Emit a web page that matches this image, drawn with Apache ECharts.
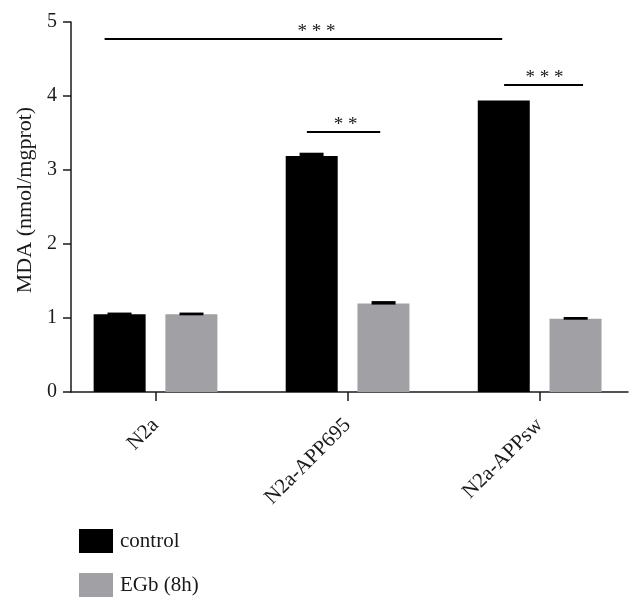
<!DOCTYPE html>
<html>
<head>
<meta charset="utf-8">
<script src="https://cdn.jsdelivr.net/npm/echarts@6/dist/echarts.min.js"></script>
<style>
  html, body { margin: 0; padding: 0; background: #fff; }
  #chart { width: 642px; height: 611px; }
</style>
</head>
<body>
<div id="chart"></div>
<script>
// 数据
const categories = ['N2a', 'N2a-APP695', 'N2a-APPsw'];
const controlValues = [1.05, 3.19, 3.94];
const egbValues = [1.05, 1.195, 0.99];
const controlErr = [0.01, 0.03, 0];
const egbErr = [0.01, 0.02, 0.01];
const yTicks = [0, 1, 2, 3, 4, 5];
// 显著性标注: 从 x0 到 x1 (类目坐标), 高度 y
const sigMarks = [
  { x0: -0.265, x1: 1.805, y: 4.78, text: '* * *', shift: 13 },
  { x0: 0.788, x1: 1.17, y: 3.52, text: '* *', shift: 2 },
  { x0: 1.815, x1: 2.226, y: 4.15, text: '* * *', shift: 1 }
];

const FONT = 'Liberation Serif';
const TEXT = '#1a1a1a';
const BAR_OFFSET = 36; // 柱子中心到类目中心的距离(px)

const chart = echarts.init(document.getElementById('chart'));

function errorSeries(name, values, errs, sign, extra) {
  return Object.assign({
    type: 'custom',
    name: name,
    z: 5,
    silent: true,
    data: values.map((v, i) => [i, v, errs[i]]),
    renderItem: function (params, api) {
      const i = api.value(0);
      const v = api.value(1);
      const e = api.value(2);
      if (!e) {
        return null;
      }
      const top = api.coord([i, v + e]);
      const base = api.coord([i, v]);
      const cx = top[0] + sign * BAR_OFFSET;
      const h = Math.max(base[1] - top[1], 0) + 2;
      return {
        type: 'rect',
        shape: { x: cx - 12, y: top[1] - 1, width: 24, height: h },
        style: { fill: '#000' }
      };
    }
  }, extra || {});
}

const option = {
  animation: false,
  textStyle: { fontFamily: FONT, color: TEXT },
  grid: { left: 71, right: 14, top: 22, bottom: 219, containLabel: false },
  legend: {
    orient: 'vertical',
    left: 79,
    top: 529,
    padding: 0,
    itemWidth: 34,
    itemHeight: 24,
    itemGap: 20,
    icon: 'rect',
    data: ['control', 'EGb (8h)'],
    textStyle: { fontFamily: FONT, fontSize: 21, color: TEXT, padding: [0, 0, 0, 2] }
  },
  xAxis: {
    type: 'value',
    min: -0.44,
    max: 2.46,
    splitLine: { show: false },
    axisLine: { show: true, onZero: false, lineStyle: { color: TEXT, width: 1.5 } },
    axisTick: { show: true, customValues: [0, 1, 2], length: 9, inside: false, lineStyle: { color: TEXT, width: 1.5 } },
    axisLabel: {
      customValues: [0, 1, 2],
      rotate: 45,
      margin: 30,
      fontFamily: FONT,
      fontSize: 21,
      color: TEXT,
      formatter: function (v) { return categories[Math.round(v)]; }
    }
  },
  yAxis: {
    type: 'value',
    min: 0,
    max: 5,
    interval: 1,
    name: 'MDA (nmol/mgprot)',
    nameLocation: 'middle',
    nameGap: 35,
    nameTextStyle: { fontFamily: FONT, fontSize: 22, color: TEXT, padding: [0, 0, 0, 14] },
    splitLine: { show: false },
    axisLine: { show: true, onZero: false, lineStyle: { color: TEXT, width: 1.5 } },
    axisTick: { show: true, length: 8, lineStyle: { color: TEXT, width: 1.5 } },
    axisLabel: {
      margin: 14,
      fontFamily: FONT,
      fontSize: 20,
      color: TEXT,
      customValues: yTicks
    }
  },
  series: [
    {
      name: 'control',
      type: 'bar',
      barWidth: 52,
      barGap: '38%',
      itemStyle: { color: '#000' },
      data: controlValues.map((v, i) => [i, v])
    },
    {
      name: 'EGb (8h)',
      type: 'bar',
      barWidth: 52,
      barGap: '38%',
      itemStyle: { color: '#a1a1a5' },
      data: egbValues.map((v, i) => [i, v])
    },
    errorSeries('control-err', controlValues, controlErr, -1, {
      markLine: {
        silent: true,
        symbol: 'none',
        lineStyle: { color: '#000', width: 2, type: 'solid' },
        label: {
          position: 'insideMiddleTop',
          fontFamily: FONT,
          fontSize: 19,
          color: TEXT,
          distance: -3
        },
        data: sigMarks.map(m => [
          { coord: [m.x0, m.y], label: { formatter: m.text, offset: [m.shift, 0] } },
          { coord: [m.x1, m.y] }
        ])
      }
    }),
    errorSeries('egb-err', egbValues, egbErr, 1)
  ]
};

chart.setOption(option);
</script>
</body>
</html>
